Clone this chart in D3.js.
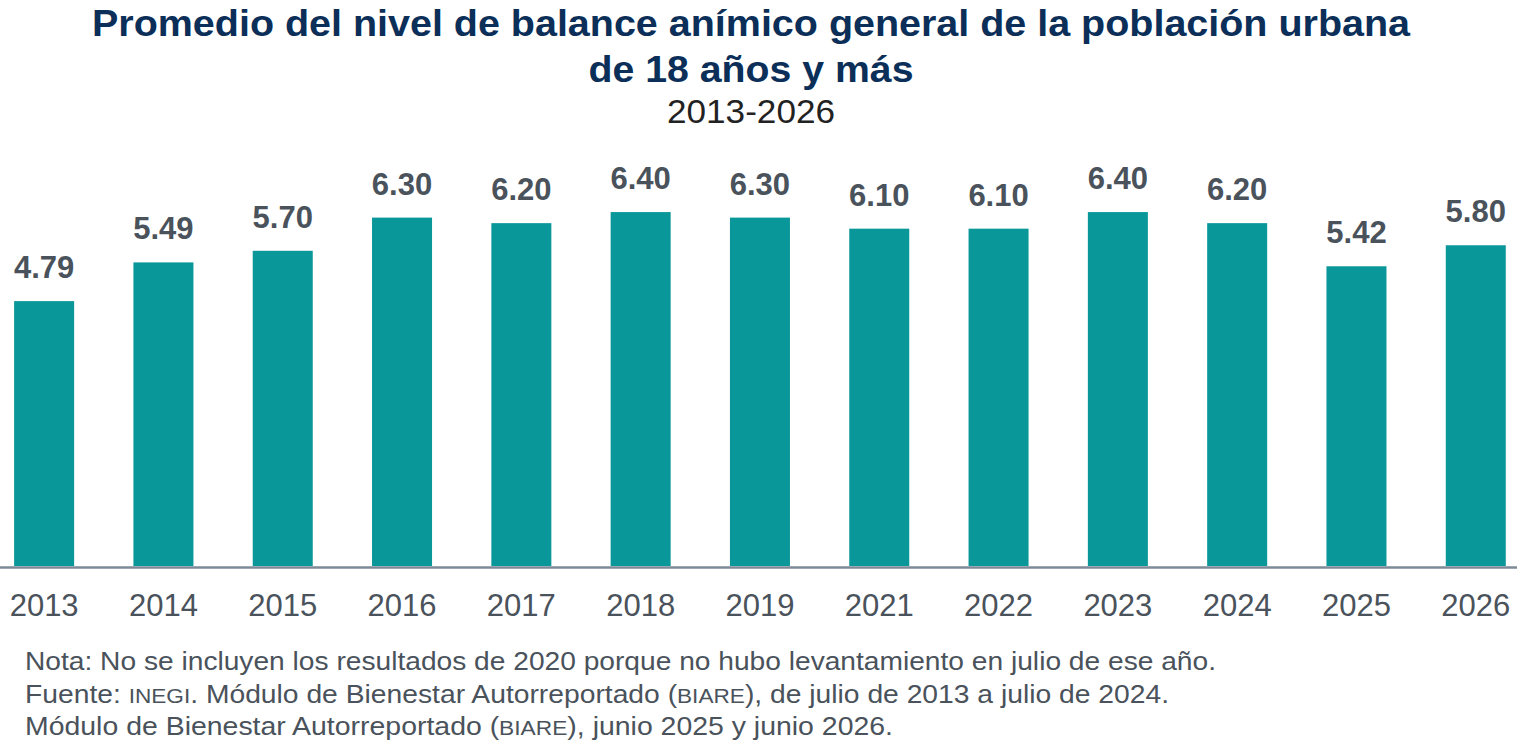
<!DOCTYPE html>
<meta charset="utf-8">
<script src="https://d3js.org/d3.v7.min.js"></script>
<html>
<head>
<style>
  body { margin: 0; background: #fff; }
  svg text { font-family: Arial, "Liberation Sans", sans-serif; }
  .axis .domain { stroke: #7d8a97; stroke-width: 2.6px; }
  .axis text { font-size: 31px; fill: #4a525b; }
</style>
</head>
<body>
<div id="viz"></div>
<script>
// data
const years = ["2013","2014","2015","2016","2017","2018","2019","2021","2022","2023","2024","2025","2026"];
const values = [4.79, 5.49, 5.70, 6.30, 6.20, 6.40, 6.30, 6.10, 6.10, 6.40, 6.20, 5.42, 5.80];
const titleLines = ["Promedio del nivel de balance anímico general de la población urbana", "de 18 años y más"];
const subtitle = "2013-2026";

const width = 1517, height = 751;
const baseY = 566;
const midX = 751;

const svg = d3.select("#viz")
  .append("svg")
    .attr("width", width)
    .attr("height", height);

const x = d3.scaleBand()
  .domain(years)
  .range([-15.7, 1535.6])
  .paddingInner(0.497)
  .paddingOuter(0.25);

const y = d3.scaleLinear()
  .domain([0, 10])
  .range([baseY, 13]);

// title (reference glyphs run a bit wider than Liberation Sans, so stretch)
const titleWidths = [1318, 325];
svg.selectAll(".title")
  .data(titleLines)
  .join("text")
    .attr("class", "title")
    .attr("x", midX)
    .attr("y", (d, i) => 36 + i * 46)
    .attr("text-anchor", "middle")
    .attr("textLength", (d, i) => titleWidths[i])
    .attr("lengthAdjust", "spacingAndGlyphs")
    .style("font-size", "36px")
    .style("font-weight", "bold")
    .style("fill", "#0b2f58")
    .text(d => d);

svg.append("text")
  .attr("x", midX)
  .attr("y", 123)
  .attr("text-anchor", "middle")
  .attr("textLength", 168)
  .attr("lengthAdjust", "spacingAndGlyphs")
  .style("font-size", "34px")
  .style("fill", "#222")
  .text(subtitle);

// bars
svg.append("g")
  .selectAll("rect")
  .data(values)
  .join("rect")
    .attr("x", (d, i) => x(years[i]))
    .attr("y", d => y(d))
    .attr("width", x.bandwidth())
    .attr("height", d => baseY - y(d))
    .attr("fill", "#0a9799");

// value labels
svg.append("g")
  .selectAll("text")
  .data(values)
  .join("text")
    .attr("x", (d, i) => x(years[i]) + x.bandwidth() / 2)
    .attr("y", d => y(d) - 23)
    .attr("text-anchor", "middle")
    .style("font-size", "31px")
    .style("font-weight", "bold")
    .style("fill", "#4a525b")
    .text(d => d3.format(".2f")(d));

// x axis
const xAxis = svg.append("g")
  .attr("class", "axis")
  .attr("transform", `translate(0,${baseY + 1})`)
  .call(d3.axisBottom(x).tickSize(0).tickSizeOuter(0));
xAxis.selectAll(".tick text").attr("y", 49).attr("dy", 0)
  .attr("font-family", null);

// notes
const notes = svg.append("g")
  .style("font-size", "25px")
  .style("fill", "#4a525b");

const noteLines = [
  [["Nota: No se incluyen los resultados de 2020 porque no hubo levantamiento en julio de ese año.", false]],
  [["Fuente: ", false], ["INEGI", true], [". Módulo de Bienestar Autorreportado (", false], ["BIARE", true], ["), de julio de 2013 a julio de 2024.", false]],
  [["Módulo de Bienestar Autorreportado (", false], ["BIARE", true], ["), junio 2025 y junio 2026.", false]]
];
const noteWidths = [1191, 1144, 868];

noteLines.forEach(function(parts, i) {
  const t = notes.append("text")
    .attr("x", 25)
    .attr("y", 670 + i * 32.5)
    .attr("textLength", noteWidths[i])
    .attr("lengthAdjust", "spacingAndGlyphs");
  parts.forEach(function(p) {
    t.append("tspan")
      .style("font-size", p[1] ? "20px" : "25px")
      .text(p[0]);
  });
});
</script>
</body>
</html>
